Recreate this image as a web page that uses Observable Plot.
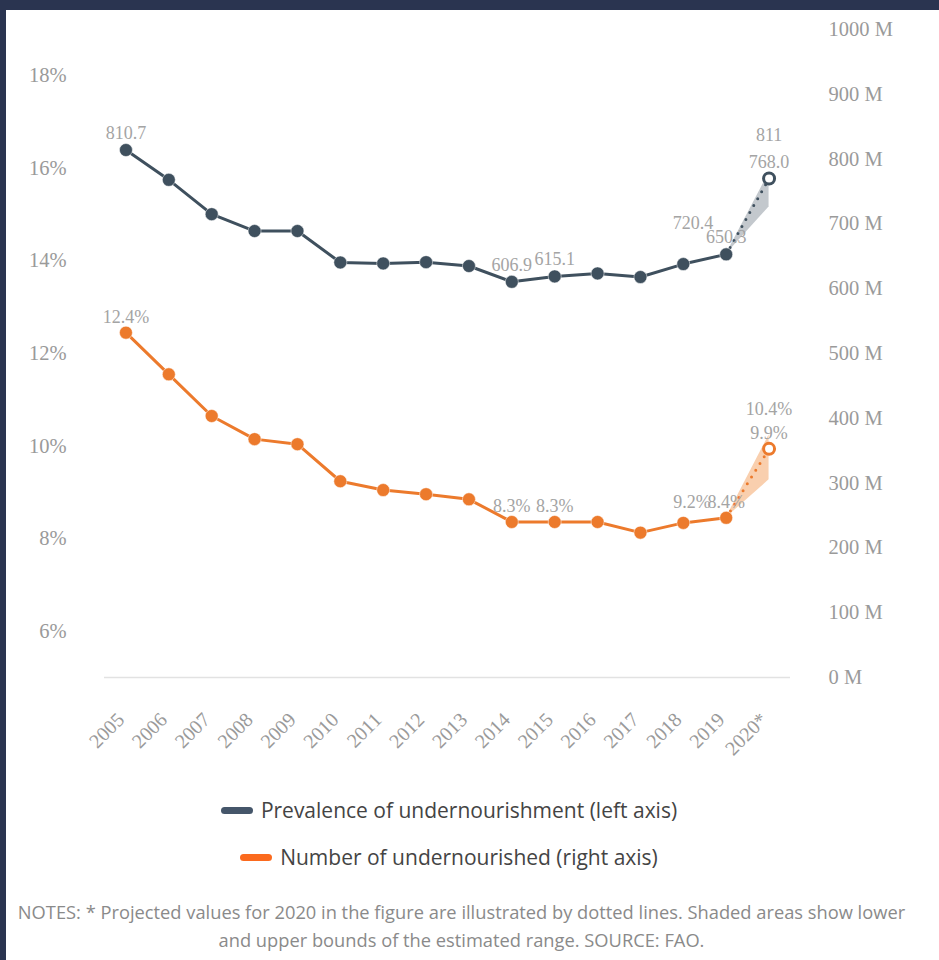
<!DOCTYPE html>
<html>
<head>
<meta charset="utf-8">
<script src="https://cdn.jsdelivr.net/npm/d3@7"></script>
<script src="https://cdn.jsdelivr.net/npm/@observablehq/plot@0.6"></script>
<style>
  html, body { margin: 0; padding: 0; }
  body { width: 939px; height: 960px; overflow: hidden; position: relative; background: #2a3450; }
  #panel { position: absolute; left: 6px; top: 10px; right: 0; bottom: 0; background: #fff; }
  #chart { position: absolute; left: 0; top: 0; }
  .legend { position: absolute; left: 0; width: 898px; text-align: center; font: 21px "Open Sans", sans-serif; color: #444; line-height: 26px; white-space: nowrap; }
  .pill { display: inline-block; width: 32px; height: 7px; border-radius: 4px; margin-right: 8px; vertical-align: middle; position: relative; top: -2px; }
  #notes { position: absolute; left: 0; width: 923px; top: 898px; text-align: center; font: 18.3px "Open Sans", sans-serif; color: #8a8a8a; line-height: 28px; white-space: nowrap; }
</style>
</head>
<body>
<div id="panel"></div>
<div id="chart"></div>
<div class="legend" style="top:797px"><span class="pill" style="background:#45566a"></span>Prevalence of undernourishment (left axis)</div>
<div class="legend" style="top:844px"><span class="pill" style="background:#fb6a1e"></span>Number of undernourished (right axis)</div>
<div id="notes">NOTES: * Projected values for 2020 in the figure are illustrated by dotted lines. Shaded areas show lower<br>and upper bounds of the estimated range. SOURCE: FAO.</div>
<script>
// ---- data ----
const years = ["2005","2006","2007","2008","2009","2010","2011","2012","2013","2014","2015","2016","2017","2018","2019","2020*"];
// dark series (plotted against right axis, millions)
const numberM = [814, 768, 715, 689, 689, 640.5, 639, 641, 635, 610.6, 619, 623.6, 618, 638, 653, 770];
// orange series (plotted against left axis, percent)
const prevalence = [12.45, 11.55, 10.65, 10.15, 10.04, 9.24, 9.05, 8.96, 8.85, 8.36, 8.36, 8.36, 8.13, 8.34, 8.45, 9.94];
// 2020 projected range [low, high]
const numberRange2020 = [726, 779];
const prevalenceRange2020 = [9.27, 10.24];
// data labels (attached to a year of the series)
const numberLabels = [
  {year: "2005", text: "810.7"},
  {year: "2014", text: "606.9"},
  {year: "2015", text: "615.1"},
  {year: "2019", text: "650.3"},
  {year: "2020*", text: "768.0"}
];
const numberHighLabel = [{year: "2020*", text: "811"}];
const numberLowLabel = [{year: "2020*", text: "720.4"}];
const prevalenceLabels = [
  {year: "2005", text: "12.4%"},
  {year: "2014", text: "8.3%"},
  {year: "2015", text: "8.3%"},
  {year: "2019", text: "8.4%"},
  {year: "2020*", text: "9.9%"}
];
const prevalenceHighLabel = [{year: "2020*", text: "10.4%"}];
const prevalenceLowLabel = [{year: "2020*", text: "9.2%"}];
const leftTicks = [6, 8, 10, 12, 14, 16, 18];
const rightTicks = [0, 100, 200, 300, 400, 500, 600, 700, 800, 900, 1000];

// ---- helpers ----
const yMin = 5, yMax = 19;
const toY = n => yMin + n * (yMax - yMin) / 1000;      // millions -> left-axis units
const fromY = v => (v - yMin) * 1000 / (yMax - yMin);

const dark = "#3f505e";
const orange = "#ec7a2c";
const labelGray = "#a4a4a4";

const last = years.length - 1;
const darkRows = years.map((y, i) => ({year: y, v: toY(numberM[i])}));
const orangeRows = years.map((y, i) => ({year: y, v: prevalence[i]}));
const darkByYear = new Map(darkRows.map(d => [d.year, d.v]));
const orangeByYear = new Map(orangeRows.map(d => [d.year, d.v]));

const darkBand = [
  {year: years[last - 1], lo: toY(numberM[last - 1]), hi: toY(numberM[last - 1])},
  {year: years[last], lo: toY(numberRange2020[0]), hi: toY(numberRange2020[1])}
];
const orangeBand = [
  {year: years[last - 1], lo: prevalence[last - 1], hi: prevalence[last - 1]},
  {year: years[last], lo: prevalenceRange2020[0], hi: prevalenceRange2020[1]}
];

const chart = Plot.plot({
  width: 939,
  height: 780,
  marginLeft: 104,
  marginRight: 149,
  marginTop: 29,
  marginBottom: 103,
  style: {fontFamily: "'Liberation Serif', serif", fontSize: "18px", color: "#9a9a9a", background: "transparent"},
  x: {type: "point", domain: years, padding: 0.5, round: false},
  y: {domain: [yMin, yMax]},
  marks: [
    Plot.ruleY([yMin], {stroke: "#e2e2e2", strokeWidth: 1.5}),
    Plot.areaY(darkBand, {x: "year", y1: "lo", y2: "hi", fill: "#c3c8cd"}),
    Plot.areaY(orangeBand, {x: "year", y1: "lo", y2: "hi", fill: "#f9cfae"}),
    Plot.line(darkRows.slice(0, last), {x: "year", y: "v", stroke: dark, strokeWidth: 3}),
    Plot.line(orangeRows.slice(0, last), {x: "year", y: "v", stroke: orange, strokeWidth: 3}),
    Plot.line(darkRows.slice(last - 1), {x: "year", y: "v", stroke: dark, strokeWidth: 3, strokeDasharray: "0,8", strokeLinecap: "round"}),
    Plot.line(orangeRows.slice(last - 1), {x: "year", y: "v", stroke: orange, strokeWidth: 3, strokeDasharray: "0,8", strokeLinecap: "round"}),
    Plot.dot(darkRows.slice(0, last), {x: "year", y: "v", r: 6.5, fill: dark, stroke: "white", strokeWidth: 0.5}),
    Plot.dot(orangeRows.slice(0, last), {x: "year", y: "v", r: 6.5, fill: orange, stroke: "white", strokeWidth: 0.5}),
    Plot.dot(darkRows.slice(last), {x: "year", y: "v", r: 5.5, fill: "white", stroke: dark, strokeWidth: 3}),
    Plot.dot(orangeRows.slice(last), {x: "year", y: "v", r: 5.5, fill: "white", stroke: orange, strokeWidth: 3}),
    Plot.text(numberLabels, {x: "year", y: d => darkByYear.get(d.year), text: "text", lineAnchor: "bottom", dy: -11, fill: labelGray}),
    Plot.text(numberHighLabel, {x: "year", y: d => darkByYear.get(d.year), text: "text", lineAnchor: "bottom", dy: -38, fill: labelGray}),
    Plot.text(numberLowLabel, {x: "year", y: () => toY(numberRange2020[0]), text: "text", lineAnchor: "bottom", dy: 22, dx: -76, fill: labelGray}),
    Plot.text(prevalenceLabels, {x: "year", y: d => orangeByYear.get(d.year), text: "text", lineAnchor: "bottom", dy: -10, fill: labelGray}),
    Plot.text(prevalenceHighLabel, {x: "year", y: d => orangeByYear.get(d.year), text: "text", lineAnchor: "bottom", dy: -34, fill: labelGray}),
    Plot.text(prevalenceLowLabel, {x: "year", y: () => prevalenceRange2020[0], text: "text", lineAnchor: "bottom", dy: 28, dx: -77, fill: labelGray}),
    Plot.axisX({tickRotate: -45, tickSize: 0, tickPadding: 39, dx: -5, fontSize: 20, label: null}),
    Plot.axisY(leftTicks, {anchor: "left", tickSize: 0, tickPadding: 38, fontSize: 20.5, tickFormat: d => d + "%", label: null}),
    Plot.axisY(rightTicks.map(toY), {anchor: "right", tickSize: 0, tickPadding: 38, fontSize: 20.5, tickFormat: v => Math.round(fromY(v)) + " M", label: null})
  ]
});
document.getElementById("chart").appendChild(chart);
</script>
</body>
</html>
